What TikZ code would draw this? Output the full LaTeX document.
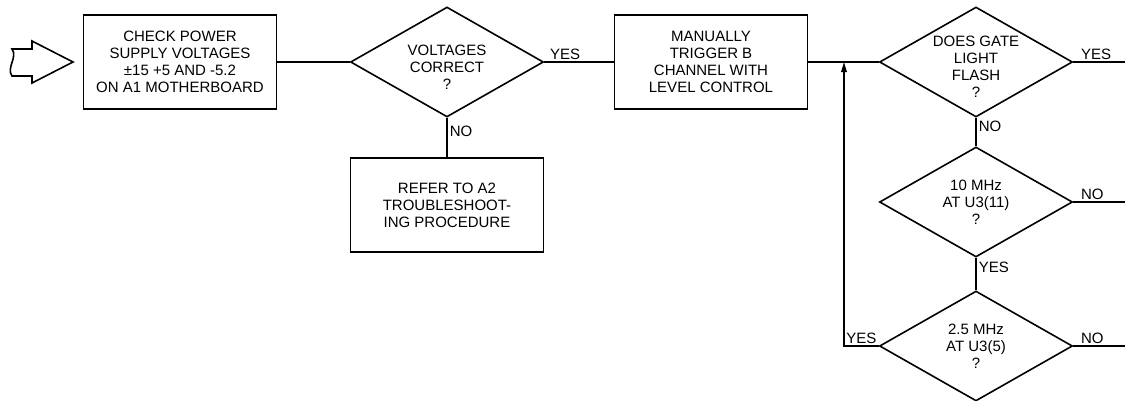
\documentclass[tikz,border=0pt]{standalone}
\usepackage{fontspec}
\setmainfont{Liberation Sans}
\usetikzlibrary{arrows.meta,shapes.geometric}
\tikzset{
    flow chart/.style = {x=1pt, y=-1pt,
                         >={Triangle[length=10pt, width=5.5pt]},
                         font=\fontsize{15}{17}\selectfont},
    line/.style       = {line width=1.6pt},
    block/.style      = {draw, line width=1.6pt, align=center, inner sep=0pt,
                         minimum width=193pt, minimum height=94pt},
    decision/.style   = {draw, line width=1.6pt, diamond, inner sep=0pt,
                         minimum width=193pt, minimum height=110pt},
    dtext/.style      = {align=center, inner sep=0pt},
    lbl/.style        = {inner sep=2pt},
    out lbl/.style    = {lbl, above right, pos=0, xshift=5pt}
}

\begin{document}
\begin{tikzpicture}[flow chart]
\useasboundingbox (0,0) rectangle (1125,400);

% ================= Entry arrow =================
\draw[line, line join=miter] (32,49) -- (32,41) -- (73,62) -- (32,83) -- (32,76)
    -- (12,76) .. controls (6,68) and (18,57) .. (12,49) -- cycle;

% ================= Main row =================
\node[block] (check) at (180,62)
    {CHECK POWER\\SUPPLY VOLTAGES\\±15 +5 AND -5.2\\ON A1 MOTHERBOARD};
\node[decision, label={[dtext, yshift=-5pt]center:{VOLTAGES\\CORRECT\\?}}]
    (volt) at (447,62) {};
\node[block] (refer) at (447,205)
    {REFER TO A2\\TROUBLESHOOT-\\ING PROCEDURE};
\node[block] (trig) at (711,62)
    {MANUALLY\\TRIGGER B\\CHANNEL WITH\\LEVEL CONTROL};
\coordinate (join) at (844,62);

% ================= Test column =================
\node[decision, label={[dtext, yshift=-5pt]center:{DOES GATE\\LIGHT\\FLASH\\?}}]
    (gate) at (976,62) {};
\node[decision, label={[dtext]center:{10 MHz\\AT U3(11)\\?}}]
    (tenmhz) at (976,202) {};
\node[decision, label={[dtext]center:{2.5 MHz\\AT U3(5)\\?}}]
    (twofive) at (976,346) {};
\coordinate (gate out) at (1125,62);
\coordinate (tenmhz out) at (1125,202);
\coordinate (twofive out) at (1125,346);

% ================= Connectors =================
\draw[line] (check.east) -- (volt.west);
\draw[line] (volt.east) -- node[lbl, above right, pos=0, xshift=3pt] {YES} (trig.west);
\draw[line] (volt.south) -- node[lbl, right, pos=0.35] {NO} (refer.north);
\draw[line] (trig.east) -- (gate.west);
\draw[line] (gate.east) -- node[out lbl] {YES} (gate out);
\draw[line] (gate.south) -- node[lbl, right, pos=0.3] {NO} (tenmhz.north);
\draw[line] (tenmhz.east) -- node[out lbl] {NO} (tenmhz out);
\draw[line] (tenmhz.south) -- node[lbl, right, pos=0.3] {YES} (twofive.north);
\draw[line] (twofive.east) -- node[out lbl] {NO} (twofive out);
\draw[line, ->] (twofive.west) -- node[lbl, above] {YES} (twofive.west -| join)
    -- (join);

\end{tikzpicture}
\end{document}
